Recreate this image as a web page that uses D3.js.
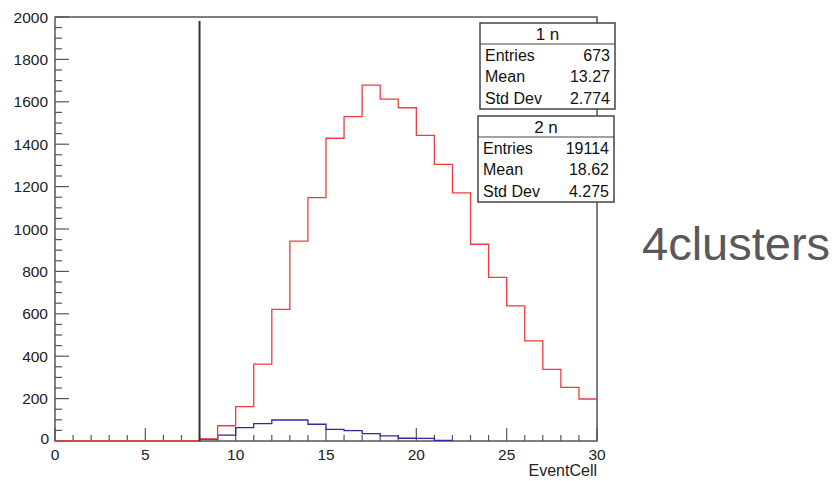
<!DOCTYPE html>
<html>
<head>
<meta charset="utf-8">
<script src="https://cdn.jsdelivr.net/npm/d3@7"></script>
<style>
  html, body { margin: 0; padding: 0; background: #fff; }
  svg { display: block; }
  text { font-family: "Liberation Sans", Arial, sans-serif; }
</style>
</head>
<body>
<svg id="chart" width="838" height="481"></svg>
<script>
// ---- data ----
const binEdges = d3.range(0, 31); // 30 bins of width 1, 0..30
const redCounts = [0,0,0,0,0,0,0,0,10,72,162,363,621,943,1148,1428,1530,1679,1613,1572,1442,1305,1170,928,772,637,472,338,253,198];
const blueCounts = [0,0,0,0,0,0,0,0,8,28,63,82,99,99,79,55,49,35,24,13,12,3,0,0,0,0,0,0,0,0];
const xTicks = [0,5,10,15,20,25,30];
const yTicks = [0,200,400,600,800,1000,1200,1400,1600,1800,2000];
const cutX = 8;
const stats1 = {title: "1 n", rows: [["Entries","673"],["Mean","13.27"],["Std Dev","2.774"]]};
const stats2 = {title: "2 n", rows: [["Entries","19114"],["Mean","18.62"],["Std Dev","4.275"]]};
const xLabel = "EventCell";
const sideLabel = "4clusters";

// ---- layout ----
const svg = d3.select("#chart");
const L = 55, R = 597, T = 17, B = 441;
const x = d3.scaleLinear().domain([0, 30]).range([L, R]);
const y = d3.scaleLinear().domain([0, 2000]).range([B, T]);
const axisColor = "#555";

// frame
svg.append("rect").attr("x", L).attr("y", T).attr("width", R - L).attr("height", B - T)
  .attr("fill", "none").attr("stroke", axisColor).attr("stroke-width", 1.5);

// y ticks
const yMinor = d3.range(0, 2001, 50);
svg.append("g").selectAll("line").data(yMinor).join("line")
  .attr("x1", L).attr("x2", d => L + (d % 200 === 0 ? 14 : 7))
  .attr("y1", d => y(d)).attr("y2", d => y(d))
  .attr("stroke", axisColor).attr("stroke-width", 1.2);
svg.append("g").selectAll("text").data(yTicks).join("text")
  .attr("x", d => d === 0 ? 49 : 48).attr("y", d => y(d) + (d === 0 ? 3 : 5.5))
  .attr("text-anchor", "end").attr("font-size", 15.5).attr("fill", "#222")
  .text(d => d);

// x ticks
const xMinor = d3.range(0, 31, 1);
svg.append("g").selectAll("line").data(xMinor).join("line")
  .attr("x1", d => x(d)).attr("x2", d => x(d))
  .attr("y1", B).attr("y2", d => B - (d % 5 === 0 ? 13 : 6))
  .attr("stroke", axisColor).attr("stroke-width", 1.2);
svg.append("g").selectAll("text").data(xTicks).join("text")
  .attr("x", d => x(d)).attr("y", 460)
  .attr("text-anchor", "middle").attr("font-size", 15.5).attr("fill", "#222")
  .text(d => d);

svg.append("text").attr("x", R).attr("y", 476).attr("text-anchor", "end")
  .attr("font-size", 16).attr("fill", "#222").text(xLabel);

// histograms as steps
function stepPath(counts, from, to) {
  const pts = [];
  for (let i = from; i < to; i++) {
    pts.push([x(binEdges[i]), y(counts[i])]);
    pts.push([x(binEdges[i + 1]), y(counts[i])]);
  }
  return d3.line()(pts);
}
svg.append("path").attr("d", stepPath(blueCounts, 8, 22))
  .attr("fill", "none").attr("stroke", "#2a2aa8").attr("stroke-width", 1.3);
svg.append("path").attr("d", stepPath(redCounts, 0, 30))
  .attr("fill", "none").attr("stroke", "#f03c3c").attr("stroke-width", 1.3);

// cut line
svg.append("line").attr("x1", x(cutX)).attr("x2", x(cutX)).attr("y1", 21).attr("y2", B)
  .attr("stroke", "#333").attr("stroke-width", 2);

// stat boxes
function statBox(s, bx, by, bw, bh, sep) {
  const g = svg.append("g");
  g.append("rect").attr("x", bx).attr("y", by).attr("width", bw).attr("height", bh)
    .attr("fill", "#fff").attr("stroke", "#444").attr("stroke-width", 1.5);
  g.append("line").attr("x1", bx).attr("x2", bx + bw).attr("y1", by + sep).attr("y2", by + sep)
    .attr("stroke", "#444").attr("stroke-width", 1.2);
  g.append("text").attr("x", bx + bw / 2).attr("y", by + sep - 4).attr("text-anchor", "middle")
    .attr("font-size", 17).attr("fill", "#111").text(s.title);
  const rowH = (bh - sep) / 3;
  s.rows.forEach((r, i) => {
    const yy = by + sep + rowH * (i + 1) - 5;
    g.append("text").attr("x", bx + 5).attr("y", yy).attr("font-size", 16).attr("fill", "#111").text(r[0]);
    g.append("text").attr("x", bx + bw - 5).attr("y", yy).attr("text-anchor", "end")
      .attr("font-size", 16).attr("fill", "#111").text(r[1]);
  });
}
statBox(stats1, 480, 23, 135, 86, 21);
statBox(stats2, 478, 116, 136, 86, 21);

// side label
svg.append("text").attr("x", 642).attr("y", 260)
  .attr("font-size", 47).attr("fill", "#595959").text(sideLabel);
</script>
</body>
</html>
